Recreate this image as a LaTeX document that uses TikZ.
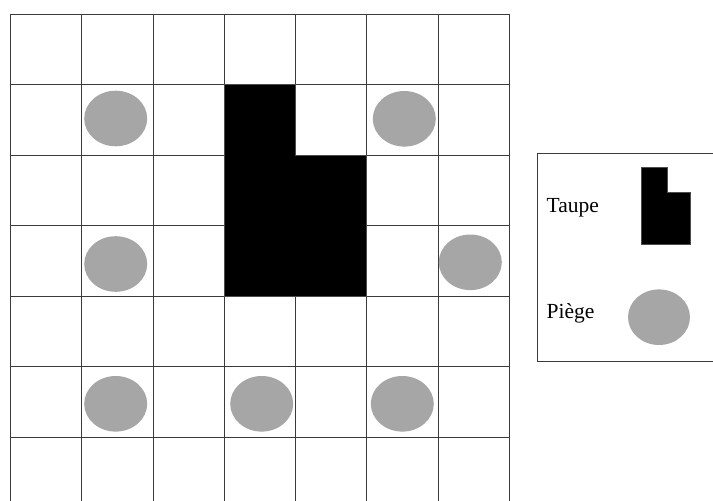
\documentclass[tikz,border=0pt]{standalone}
\usepackage{fontspec}
\setmainfont{Liberation Serif}
\definecolor{trapgray}{HTML}{A6A6A6}
\definecolor{gridline}{HTML}{3A3A3A}
\tikzset{
  gridstroke/.style={draw=gridline, line width=0.95pt},
  trap/.style={fill=trapgray},
  mole/.style={fill=black, draw=black!70, line width=0.5pt},
  legendtext/.style={font=\fontsize{21.5}{25}\selectfont, anchor=base west, inner sep=0pt},
}
\begin{document}
\begin{tikzpicture}[x=1pt,y=-1pt]
\useasboundingbox (0,0) rectangle (713,501);
\begin{scope}
\clip (0,0) rectangle (713,501);
% grid lines
\foreach \gx in {10.3,81.7,153,224.3,295.7,366.7,438,509}
  \draw[gridstroke] (\gx,13.8) -- (\gx,505);
\foreach \gy in {14,84.7,155.3,225.7,296.7,366.7,437.7}
  \draw[gridstroke] (10.3,\gy) -- (509,\gy);
% mole in the grid
\path[mole] (224.3,84.7) -- (295.7,84.7) -- (295.7,155.3) -- (366.7,155.3) -- (366.7,296.7) -- (224.3,296.7) -- cycle;
% traps in the grid
\path[trap] (115.7,118.5) ellipse [x radius=31.5, y radius=27.8];
\path[trap] (404.3,118.8) ellipse [x radius=31.5, y radius=27.8];
\path[trap] (115.7,264) ellipse [x radius=31.5, y radius=27.8];
\path[trap] (470.3,262.3) ellipse [x radius=31.5, y radius=27.8];
\path[trap] (115.7,403.8) ellipse [x radius=31.5, y radius=27.8];
\path[trap] (261.7,403.8) ellipse [x radius=31.5, y radius=27.8];
\path[trap] (402.3,403.8) ellipse [x radius=31.5, y radius=27.8];
% legend
\draw[gridstroke] (720,153.3) -- (537.3,153.3) -- (537.3,361.7) -- (720,361.7);
\node[legendtext] (taupe) at (546.5,212.5) {Taupe};
\node[legendtext] (piege) at (546.5,318.5) {Piège};
\path[mole] (641,167.3) -- (667.7,167.3) -- (667.7,192.3) -- (690.7,192.3) -- (690.7,244.3) -- (641,244.3) -- cycle;
\path[trap] (659,317.2) ellipse [x radius=31, y radius=27.8];
\end{scope}
\end{tikzpicture}
\end{document}
